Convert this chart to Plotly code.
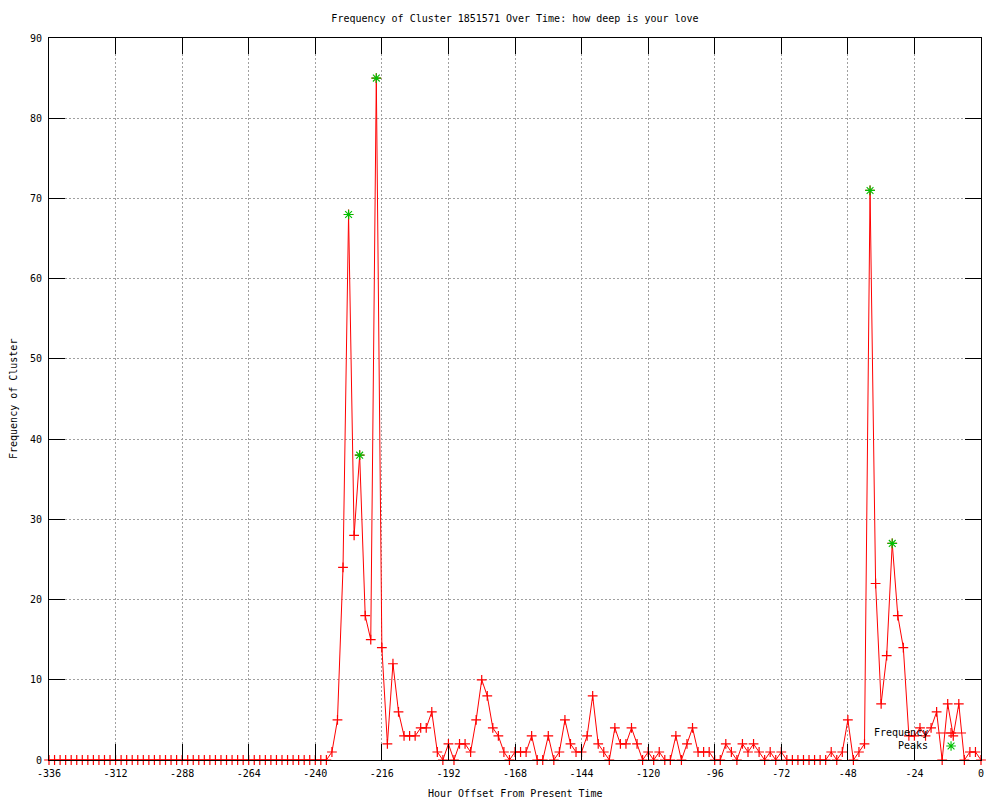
import plotly.graph_objects as go

# Hour offsets (every 2 hours from -336 to 0)
hours = list(range(-336, 1, 2))

# Frequency values
frequency = [
    0, 0, 0, 0, 0, 0, 0, 0, 0, 0,
    0, 0, 0, 0, 0, 0, 0, 0, 0, 0,
    0, 0, 0, 0, 0, 0, 0, 0, 0, 0,
    0, 0, 0, 0, 0, 0, 0, 0, 0, 0,
    0, 0, 0, 0, 0, 0, 0, 0, 0, 0,
    0,                                   # -336 .. -236
    1, 5, 24, 68, 28, 38, 18, 15, 85, 14,  # -234 .. -216
    2, 12, 6, 3, 3, 3, 4, 4, 6, 1,         # -214 .. -196
    0, 2, 0, 2, 2, 1, 5, 10, 8, 4,         # -194 .. -176
    3, 1, 0, 1, 1, 1, 3, 0, 0, 3,          # -174 .. -156
    0, 1, 5, 2, 1, 1, 3, 8, 2, 1,          # -154 .. -136
    0, 4, 2, 2, 4, 2, 0, 1, 0, 1,          # -134 .. -116
    0, 0, 3, 0, 2, 4, 1, 1, 1, 0,          # -114 .. -96
    0, 2, 1, 0, 2, 1, 2, 1, 0, 1,          # -94 .. -76
    0, 1, 0, 0, 0, 0, 0, 0, 0, 0,          # -74 .. -56
    1, 0, 1, 5, 0, 1, 2, 71, 22, 7,        # -54 .. -36
    13, 27, 18, 14, 3, 3, 4, 3, 4, 6,      # -34 .. -16
    0, 7, 3, 7, 0, 1, 1, 0,                # -14 .. 0
]

# Peaks
peak_hours = [-228, -224, -218, -40, -32]
peak_values = [68, 38, 85, 71, 27]

x_tickvals = list(range(-336, 1, 24))
x_ticktext = [str(v) for v in x_tickvals]
y_tickvals = list(range(0, 91, 10))

series_names = ["Frequency", "Peaks"]

FONT = "DejaVu Sans Mono"
RED = "#ff0000"
GREEN = "#00c000"

fig = go.Figure()
fig.add_trace(go.Scatter(
    x=hours, y=frequency, mode="lines+markers", name=series_names[0],
    line=dict(color=RED, width=1),
    marker=dict(symbol="cross-thin-open", size=7, color=RED,
                line=dict(color=RED, width=1.2)),
    cliponaxis=False, legend="legend", showlegend=True,
))
fig.add_trace(go.Scatter(
    x=peak_hours, y=peak_values, mode="markers", name=series_names[1],
    marker=dict(symbol="asterisk-open", size=8, color=GREEN,
                line=dict(color=GREEN, width=1.1)),
    cliponaxis=False, legend="legend2", showlegend=True,
))

axis_common = dict(
    showline=True, linecolor="black", linewidth=1, mirror="ticks",
    ticks="inside", ticklen=16, tickcolor="black", tickwidth=1,
    showgrid=True, gridcolor="#a0a0a0", gridwidth=1, griddash="2px,2px",
    zeroline=False, tickfont=dict(family=FONT, size=10, color="black"),
)

fig.update_xaxes(range=[-336, 0], tickvals=x_tickvals, ticktext=x_ticktext,
                 ticklabelstandoff=4, **axis_common)
fig.update_yaxes(range=[0, 90], tickvals=y_tickvals, ticklabelstandoff=4,
                 **axis_common)

# gnuplot-style key: text to the left of the sample (text drawn as annotations,
# legend symbols drawn by plotly's legends with their own labels hidden)
key_x_sym = 0.9464
key_x_text = 0.9453
key_rows = [0.0374, 0.0194]
legend_style = dict(xanchor="left", yanchor="middle", bgcolor="rgba(0,0,0,0)",
                    font=dict(family=FONT, size=1, color="rgba(0,0,0,0)"),
                    itemwidth=30, visible=True)

annotations = [
    dict(text="Hour Offset From Present Time", x=0.5, xref="paper",
         y=0, yref="paper", yshift=-33, xanchor="center", yanchor="middle",
         showarrow=False, font=dict(family=FONT, size=10)),
    dict(text="Frequency of Cluster", textangle=-90, x=0, xref="paper",
         xshift=-36, xanchor="center", y=0.5, yref="paper", yanchor="middle",
         showarrow=False, font=dict(family=FONT, size=10)),
]
for name, ry in zip(series_names, key_rows):
    annotations.append(dict(text=name, x=key_x_text, xref="paper", y=ry, yref="paper",
                            xanchor="right", yanchor="middle", showarrow=False,
                            font=dict(family=FONT, size=10, color="black")))

# the page body adds an 8px offset, margins compensate for it
fig.update_layout(
    width=1000, height=800, showlegend=True,
    margin=dict(l=41, r=27, t=30, b=48, autoexpand=False),
    paper_bgcolor="white", plot_bgcolor="white",
    font=dict(family=FONT, size=10, color="black"),
    title=dict(text="Frequency of Cluster 1851571 Over Time: how deep is your love",
               x=0.5, xref="paper", y=1 - 10 / 800, yref="container",
               xanchor="center", yanchor="middle",
               font=dict(family=FONT, size=10, color="black")),
    legend=dict(x=key_x_sym, y=key_rows[0], **legend_style),
    legend2=dict(x=key_x_sym, y=key_rows[1], **legend_style),
    annotations=annotations,
)

fig.write_html("out.html")
